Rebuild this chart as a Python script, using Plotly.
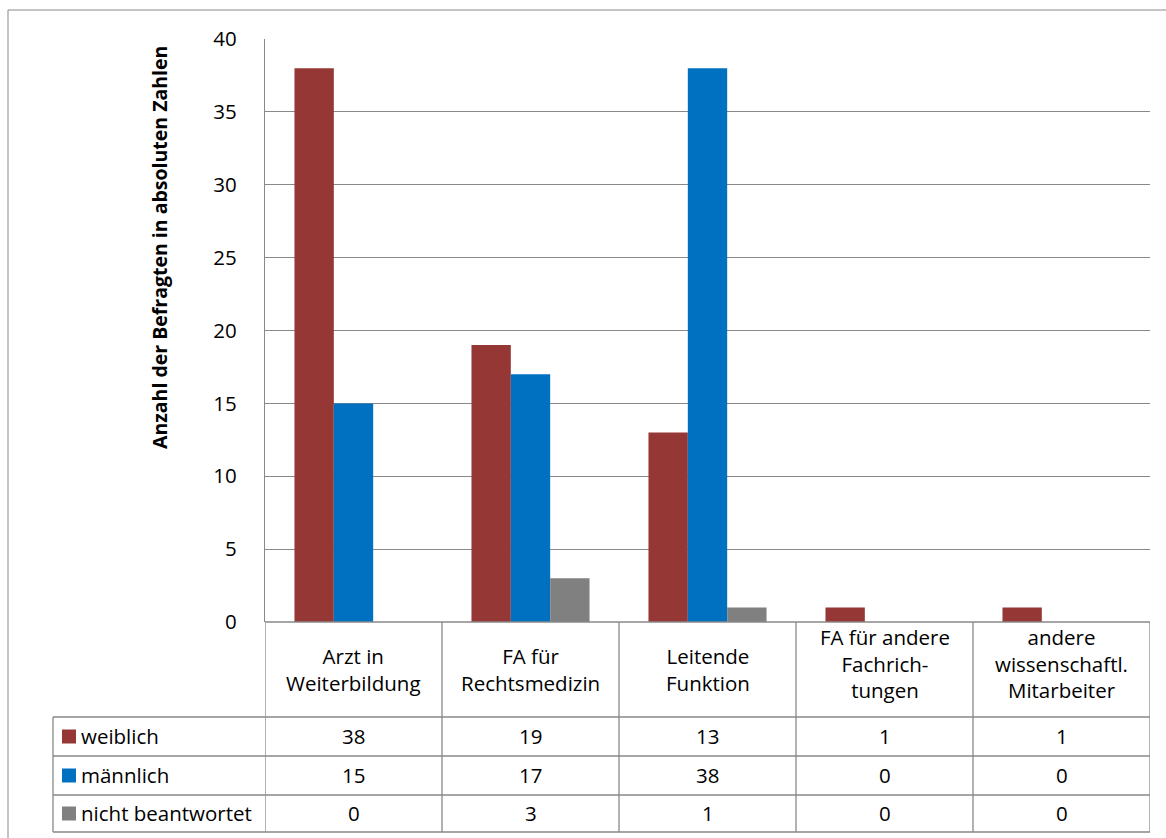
import plotly.graph_objects as go

categories = ["Arzt in<br>Weiterbildung", "FA für<br>Rechtsmedizin", "Leitende<br>Funktion",
              "FA für andere<br>Fachrich-<br>tungen", "andere<br>wissenschaftl.<br>Mitarbeiter"]
series_names = ["weiblich", "männlich", "nicht beantwortet"]
weiblich = [38, 19, 13, 1, 1]
maennlich = [15, 17, 38, 0, 0]
nicht_beantwortet = [0, 3, 1, 0, 0]
series_values = [weiblich, maennlich, nicht_beantwortet]
colors = ["#953735", "#0070C0", "#808080"]
y_ticks = [0, 5, 10, 15, 20, 25, 30, 35, 40]

W, H = 1166, 838
def px(x):
    return x / W
def py(y):
    return 1 - y / H

FONT = "Open Sans"
FS = 20.5
LINE = "#898989"

x_idx = list(range(len(categories)))

fig = go.Figure()
for name, vals, col in zip(series_names, series_values, colors):
    fig.add_trace(go.Bar(x=x_idx, y=vals, name=name, marker=dict(color=col, line=dict(width=0))))

# plot-area geometry
PL, PR, PT, PB = 265, 1150, 39, 622
ROW_TOP = [717, 756, 795]
ROW_BOT = [756, 795, 832]
TAB_LEFT = 53

shapes = []
# outer chart border
shapes.append(dict(type="line", xref="paper", yref="paper", x0=px(8), x1=1, y0=py(10), y1=py(10),
                   line=dict(color=LINE, width=1)))
shapes.append(dict(type="line", xref="paper", yref="paper", x0=px(8), x1=px(8), y0=py(10), y1=0,
                   line=dict(color=LINE, width=1)))
# table horizontal lines
for yy in [717, 756, 795, 832]:
    shapes.append(dict(type="line", xref="paper", yref="paper", x0=px(TAB_LEFT), x1=px(PR), y0=py(yy), y1=py(yy),
                       line=dict(color=LINE, width=1.3)))
shapes.append(dict(type="line", xref="paper", yref="paper", x0=px(PL), x1=px(PR), y0=py(PB), y1=py(PB),
                   line=dict(color=LINE, width=1.3)))
# table verticals
shapes.append(dict(type="line", xref="paper", yref="paper", x0=px(TAB_LEFT), x1=px(TAB_LEFT), y0=py(717), y1=py(832),
                   line=dict(color=LINE, width=1.3)))
for i in range(len(categories) + 1):
    shapes.append(dict(type="line", xref="x", yref="paper", x0=i - 0.5, x1=i - 0.5, y0=py(PB), y1=py(832),
                       line=dict(color=LINE, width=1.3)))

annotations = []
for i, c in enumerate(categories):
    n_lines = c.count("<br>") + 1
    yc = 669 if n_lines <= 2 else 663
    annotations.append(dict(x=i, xref="x", y=py(yc), yref="paper", text=c, showarrow=False,
                            xanchor="center", yanchor="middle", align="center",
                            font=dict(family=FONT, size=FS, color="black")))
for r, (name, vals, col) in enumerate(zip(series_names, series_values, colors)):
    yc = (ROW_TOP[r] + ROW_BOT[r]) / 2
    shapes.append(dict(type="rect", xref="paper", yref="paper", x0=px(62), x1=px(76),
                       y0=py(yc + 7), y1=py(yc - 7), fillcolor=col, line=dict(width=0)))
    annotations.append(dict(x=px(79), xref="paper", y=py(yc - 1), yref="paper", text=name, showarrow=False,
                            xanchor="left", yanchor="middle", font=dict(family=FONT, size=FS, color="black")))
    for i, v in enumerate(vals):
        annotations.append(dict(x=i, xref="x", y=py(yc - 1), yref="paper", text=str(v), showarrow=False,
                                xanchor="center", yanchor="middle", font=dict(family=FONT, size=FS, color="black")))

# y-axis title
annotations.append(dict(x=px(160), xref="paper", y=py(248), yref="paper",
                        text="<b>Anzahl der Befragten in absoluten Zahlen</b>", textangle=-90, showarrow=False,
                        xanchor="center", yanchor="middle", font=dict(family=FONT, size=19.5, color="black")))

fig.update_layout(
    width=W, height=H, margin=dict(l=0, r=0, t=0, b=0, pad=0, autoexpand=False),
    paper_bgcolor="white", plot_bgcolor="white",
    barmode="group", bargap=0.333, bargroupgap=0,
    showlegend=False,
    font=dict(family=FONT, size=FS, color="black"),
    xaxis=dict(domain=[px(PL), px(PR)], range=[-0.5, len(categories) - 0.5], showticklabels=False,
               showgrid=False, zeroline=False, showline=False, fixedrange=True, automargin=False),
    yaxis=dict(domain=[py(PB), py(PT)], range=[0, 40], tickvals=y_ticks, showgrid=True,
               gridcolor=LINE, gridwidth=1.3, zeroline=False, showline=True, linecolor=LINE, linewidth=1.3,
               ticks="", ticklabelstandoff=23, automargin=False,
               tickfont=dict(family=FONT, size=FS, color="black")),
    shapes=shapes, annotations=annotations,
)

fig.write_html("out.html")
